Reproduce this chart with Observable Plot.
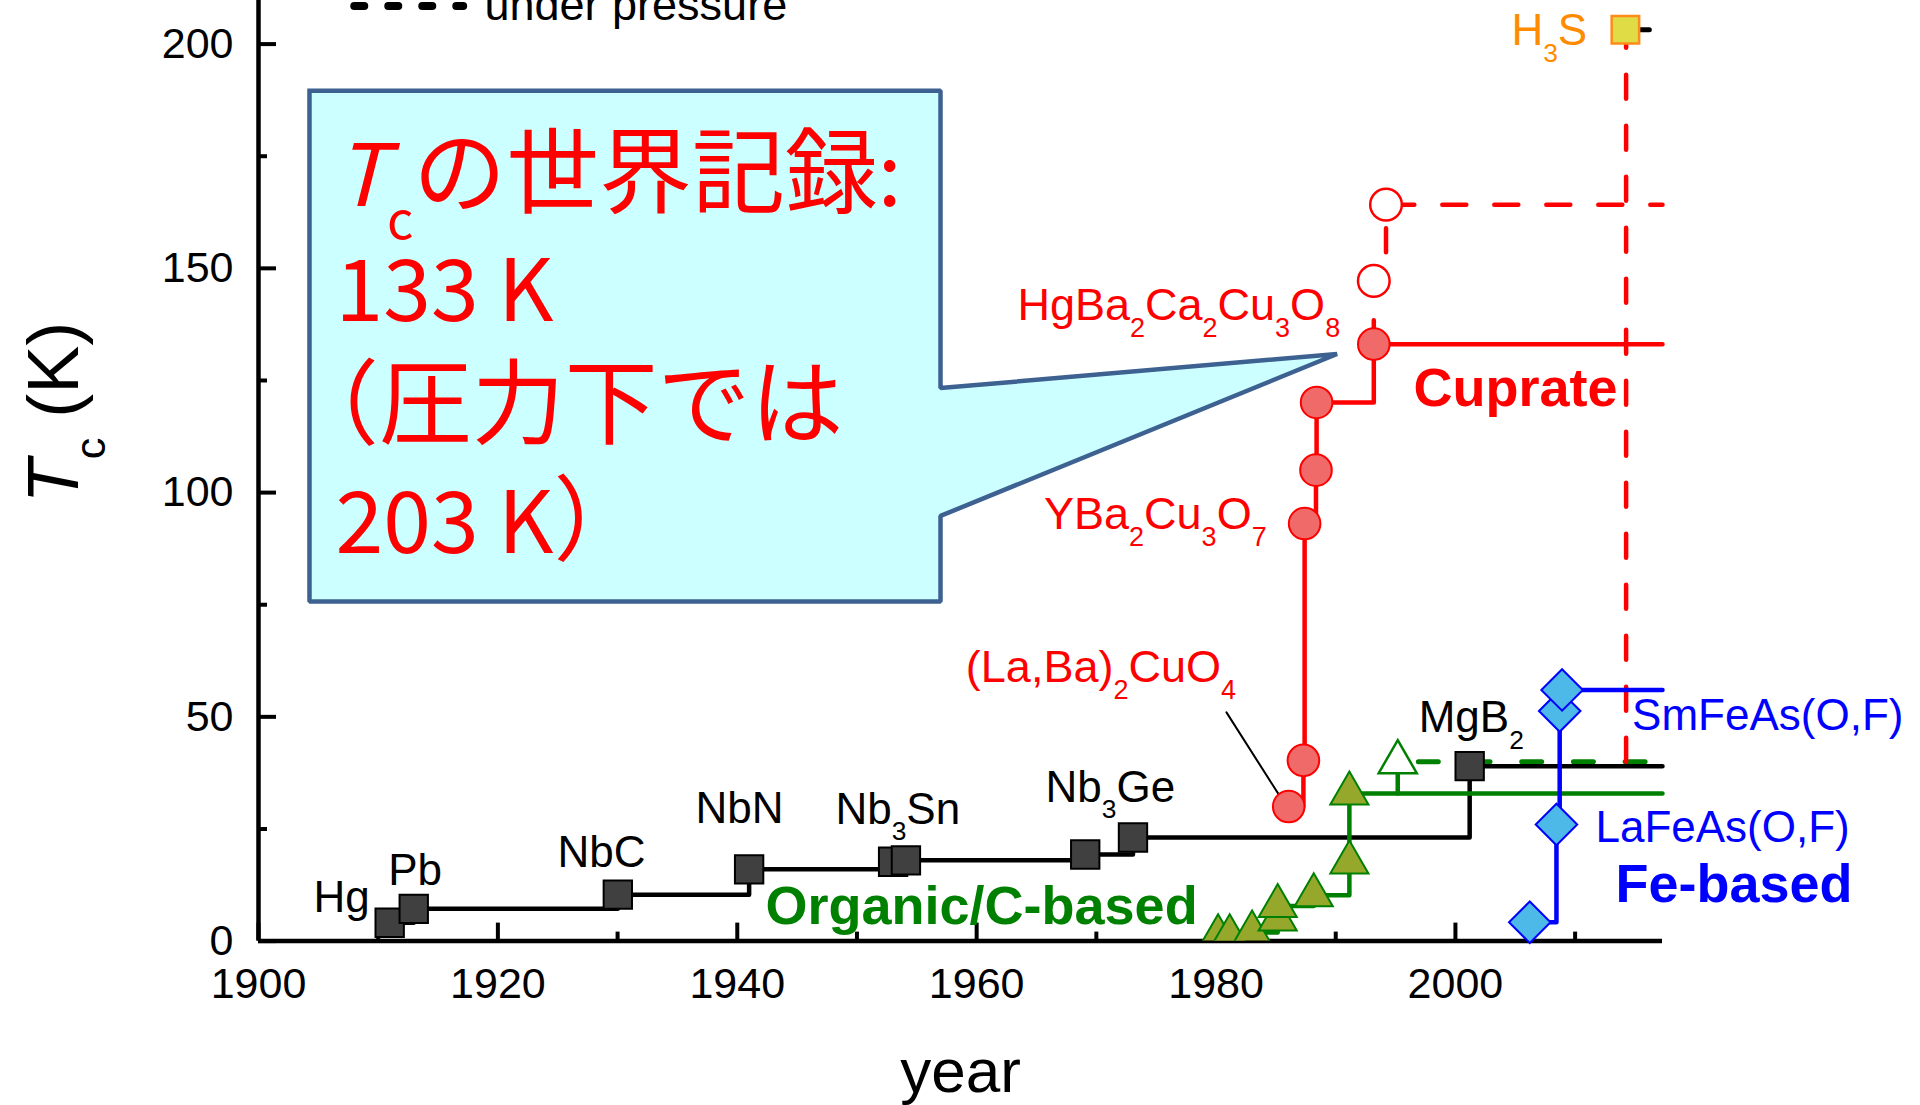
<!DOCTYPE html>
<html><head><meta charset="utf-8">
<script src="https://cdn.jsdelivr.net/npm/d3@7"></script>
<script src="https://cdn.jsdelivr.net/npm/@observablehq/plot@0.6"></script>
<style>html,body{margin:0;padding:0;background:#fff;overflow:hidden}</style>
</head><body><div id="chart"></div>
<script>
// ---------- data ----------
const yearStart = 1900, yearEnd = 2017.3, tcMax = 209.72;

const xMajorTicks = [1900, 1920, 1940, 1960, 1980, 2000];
const xMinorTicks = [1910, 1930, 1950, 1970, 1990, 2010];
const yMajorTicks = [0, 50, 100, 150, 200];
const yMinorTicks = [25, 75, 125, 175];

// conventional (black squares)
const metalYear = [1910.96, 1912.97, 1930.02, 1940.99, 1953.02, 1954.09, 1969.07, 1973.06, 2001.19];
const metalTc   = [4.1, 7.2, 10.35, 16.0, 17.7, 18.0, 19.3, 23.1, 39.0];
const metalLabel = ["Hg", "Pb", "NbC", "NbN", "Nb_3Sn", "Nb_3Ge", "MgB_2"];
const metalLabelYear = [1904.59, 1910.84, 1924.98, 1936.51, 1948.2, 1965.75, 1996.93];
const metalLabelTc   = [6.4, 12.6, 16.5, 26.4, 26.2, 31.1, 46.6];

// cuprates (red circles)
const cuprateYear = [1986.07, 1987.3, 1987.4, 1988.35, 1988.4, 1993.18];
const cuprateTc   = [30.0, 40.3, 93.1, 105.0, 120.1, 133.1];
const cupratePressYear = [1993.18, 1994.2];
const cupratePressTc   = [147.2, 164.2];
const cuprateLabel = ["HgBa_2Ca_2Cu_3O_8", "YBa_2Cu_3O_7", "(La,Ba)_2CuO_4"];
const cuprateLabelYear = [1990.37, 1984.23, 1981.67];
const cuprateLabelTc   = [138.4, 91.9, 57.7];
const leaderYear = [1980.87, 1985.38];
const leaderTc   = [51.0, 32.1];

// organic / carbon based (green triangles)
const organicYear = [1980.17, 1981.14, 1983.01, 1985.15, 1985.15, 1988.16, 1991.14, 1991.14];
const organicTc   = [1.1, 1.1, 1.9, 4.8, 7.8, 10.2, 17.5, 32.9];
const organicPressYear = [1995.18];
const organicPressTc   = [39.9];
const organicDashYear = [1996.9, yearEnd];
const organicDashTc   = [40.0, 40.0];

// iron based (blue diamonds)
const feYear = [2006.21, 2008.44, 2008.71, 2008.91];
const feTc   = [4.2, 26.0, 51.3, 56.0];
const feLabel = ["SmFeAs(O,F)", "LaFeAs(O,F)"];
const feLabelYear = [2014.76, 2011.7];
const feLabelTc   = [47.0, 22.1];

// H3S
const h3sYear = [2014.2];
const h3sTc   = [203.2];
const h3sLabel = ["H_3S"];
const h3sLabelYear = [2011.01];
const h3sLabelTc = [199.7];
const h3sDashYear = [2014.26, 2014.26];
const h3sDashTc   = [40.0, 203.2];

// family names
const familyLabel = ["Cuprate", "Organic/C-based", "Fe-based"];
const familyYear  = [1996.49, 1942.36, 2013.37];
const familyTc    = [119.4, 3.9, 8.7];

// legend
const legendLineYear = [1908.0, 1917.1];
const legendLineTc = [208.5, 208.5];
const legendText = ["under pressure"];
const legendTextYear = [1918.88];
const legendTextTc = [205.4];

// callout bubble
const calloutYear = [1904.26, 1956.98, 1956.98, 1990.11, 1956.98, 1956.98, 1904.26, 1904.26];
const calloutTc   = [189.6, 189.6, 123.3, 130.9, 94.8, 75.7, 75.7, 189.6];
const calloutLines = ["*T*_cの世界記録:", "133 K", "（圧力下では", "203 K）"];
const calloutLineYear = [1906.43, 1906.43, 1902.3, 1906.43];
const calloutLineTc = [163.9, 138.2, 112.4, 86.6];

// ---------- layout ----------
const W = 1920, H = 1105, mL = 258, mR = 258, mT = 0, mB = 164.4;
const pxPerYear = (W - mL - mR) / (yearEnd - yearStart);
const pxPerK = (H - mT - mB) / tcMax;
const majorLen = 18, minorLen = 9;
const LW = 4.5;

const RED = "#FF0000", GREEN = "#008000", BLUE = "#0000FF", BLACK = "#000";
const pts = (xs, ys) => xs.map((x, i) => ({x, y: ys[i]}));
const withEnd = (xs, ys) => pts(xs, ys).concat([{x: yearEnd, y: ys[ys.length - 1]}]);
const XY = {x: "x", y: "y"};
const labelAt = (xs, ys) => ({x: (d, i) => xs[i], y: (d, i) => ys[i], lineAnchor: "bottom"});

const chart = Plot.plot({
  width: W, height: H, marginLeft: mL, marginRight: mR, marginTop: mT, marginBottom: mB,
  x: {domain: [yearStart, yearEnd], axis: null},
  y: {domain: [0, tcMax], axis: null},
  style: {fontFamily: "'Liberation Sans', Arial, sans-serif", fontSize: "44px", background: "#fff", color: "#000"},
  marks: [
    // axes
    Plot.axisX(xMajorTicks, {tickSize: 0, tickPadding: 26, fontSize: 43, tickFormat: "d", label: null}),
    Plot.axisY(yMajorTicks, {tickSize: 0, tickPadding: 25, fontSize: 43, tickFormat: "d", label: null}),
    Plot.ruleX(xMajorTicks, {x: d => d, y1: 0, y2: majorLen / pxPerK, strokeWidth: 4}),
    Plot.ruleX(xMinorTicks, {x: d => d, y1: 0, y2: minorLen / pxPerK, strokeWidth: 4}),
    Plot.ruleY(yMajorTicks, {y: d => d, x1: yearStart, x2: yearStart + majorLen / pxPerYear, strokeWidth: 4}),
    Plot.ruleY(yMinorTicks, {y: d => d, x1: yearStart, x2: yearStart + minorLen / pxPerYear, strokeWidth: 4}),
    Plot.ruleY([0], {x1: yearStart, x2: yearEnd, strokeWidth: 4.5}),
    Plot.ruleX([yearStart], {y1: 0, y2: tcMax, strokeWidth: 4.5}),
    Plot.text(["year"], {frameAnchor: "bottom", textAnchor: "middle", lineAnchor: "bottom", dy: 150.4, fontSize: 62}),
    Plot.text(["*T*_c (K)"], {frameAnchor: "left", textAnchor: "middle", lineAnchor: "bottom", rotate: -90,
      dx: 77 - mL, dy: 412 - (H - mB) / 2, fontSize: 72}),

    // legend
    Plot.line(pts(legendLineYear, legendLineTc), {...XY, stroke: BLACK, strokeWidth: 8, strokeDasharray: "10,24", strokeLinecap: "round"}),
    Plot.text(legendText, {...labelAt(legendTextYear, legendTextTc), textAnchor: "start", fontSize: 45}),

    // pressure dashed lines
    Plot.line(pts(organicDashYear, organicDashTc), {...XY, stroke: GREEN, strokeWidth: 5, strokeDasharray: "20,31.7", strokeLinecap: "round"}),
    Plot.line(pts(h3sDashYear, h3sDashTc), {...XY, stroke: RED, strokeWidth: LW, strokeDasharray: "24,27"}),
    Plot.line(withEnd([cuprateYear[cuprateYear.length - 1], ...cupratePressYear], [cuprateTc[cuprateTc.length - 1], ...cupratePressTc]),
      {...XY, curve: "step-after", stroke: RED, strokeWidth: LW, strokeDasharray: "24,28"}),
    Plot.line([{x: h3sYear[0], y: h3sTc[0]}, {x: 2016.2, y: h3sTc[0]}], {...XY, stroke: BLACK, strokeWidth: 5, strokeLinecap: "round"}),

    // step lines
    Plot.line(withEnd(metalYear, metalTc), {...XY, curve: "step-after", stroke: BLACK, strokeWidth: LW}),
    Plot.line(withEnd(organicYear, organicTc), {...XY, curve: "step-after", stroke: GREEN, strokeWidth: LW}),
    Plot.line([{x: organicPressYear[0], y: organicTc[organicTc.length - 1]}, {x: organicPressYear[0], y: organicPressTc[0]}], {...XY, stroke: GREEN, strokeWidth: LW}),
    Plot.line(withEnd(cuprateYear, cuprateTc), {...XY, curve: "step-after", stroke: RED, strokeWidth: LW}),
    Plot.line(withEnd(feYear, feTc), {...XY, curve: "step-after", stroke: BLUE, strokeWidth: LW}),
    Plot.line(pts(leaderYear, leaderTc), {...XY, stroke: BLACK, strokeWidth: 2}),

    // markers
    Plot.dot(pts(metalYear, metalTc), {...XY, symbol: "square", r: 16, fill: "#404040", stroke: BLACK, strokeWidth: 2}),
    Plot.dot(pts(organicYear, organicTc), {...XY, symbol: "triangle", r: 14.15, fill: "#96A82C", stroke: GREEN, strokeWidth: 2, clip: true}),
    Plot.dot(pts(organicPressYear, organicPressTc), {...XY, symbol: "triangle", r: 14.15, fill: "#fff", stroke: GREEN, strokeWidth: 2.5}),
    Plot.dot(pts(cuprateYear, cuprateTc), {...XY, symbol: "circle", r: 15.8, fill: "#F06A6A", stroke: RED, strokeWidth: 2}),
    Plot.dot(pts(cupratePressYear, cupratePressTc), {...XY, symbol: "circle", r: 15.8, fill: "#fff", stroke: RED, strokeWidth: 2.5}),
    Plot.dot(pts(feYear, feTc), {...XY, symbol: "diamond2", r: 18.7, fill: "#4DB9E8", stroke: BLUE, strokeWidth: 2}),
    Plot.dot(pts(h3sYear, h3sTc), {...XY, symbol: "square", r: 15.5, fill: "#E0DC45", stroke: "#FF8C1A", strokeWidth: 2.5}),

    // labels
    Plot.text(metalLabel, {...labelAt(metalLabelYear, metalLabelTc), textAnchor: "start", fill: BLACK, fontSize: 44}),
    Plot.text(cuprateLabel, {...labelAt(cuprateLabelYear, cuprateLabelTc), textAnchor: "end", fill: RED, fontSize: 45}),
    Plot.text(feLabel, {...labelAt(feLabelYear, feLabelTc), textAnchor: "start", fill: BLUE, fontSize: 44}),
    Plot.text(h3sLabel, {...labelAt(h3sLabelYear, h3sLabelTc), textAnchor: "end", fill: "#FF8C00", fontSize: 44}),
    Plot.text(familyLabel, {...labelAt(familyYear, familyTc), textAnchor: "start",
      fill: (d, i) => [RED, GREEN, BLUE][i], fontWeight: "bold", fontSize: 54}),

    // callout
    Plot.line(pts(calloutYear, calloutTc), {...XY, fill: "#CCFFFF", stroke: "#3D6190", strokeWidth: 4.5, strokeLinejoin: "miter", strokeLinecap: "square"}),
    Plot.text(calloutLines, {...labelAt(calloutLineYear, calloutLineTc), textAnchor: "start",
      fill: RED, fontSize: 86, fontFamily: "'Noto Sans CJK JP', 'Noto Sans', sans-serif"})
  ]
});

document.getElementById("chart").appendChild(chart);

// rich text: *italic*, _x subscripts, slightly larger CJK runs
function richify(root) {
  const ns = "http://www.w3.org/2000/svg";
  const cjk = /[\u3000-\u9fff\uff00-\uffef]/;
  root.querySelectorAll("text").forEach(t => {
    if (t.children.length) return;
    const s = t.textContent;
    if (!/[_*]/.test(s) && !cjk.test(s)) return;
    const fs = parseFloat(getComputedStyle(t).fontSize) || 44;
    const shift = fs * 0.38;
    t.textContent = "";
    let italic = false, buf = "", bufCjk = false, lowered = false;
    const add = (str, sub, big) => {
      const ts = document.createElementNS(ns, "tspan");
      ts.textContent = str;
      if (italic) ts.setAttribute("font-style", "italic");
      if (big) ts.setAttribute("font-size", fs * 1.08);
      if (sub) { ts.setAttribute("font-size", fs * 0.6); if (!lowered) ts.setAttribute("dy", shift); lowered = true; }
      else if (lowered) { ts.setAttribute("dy", -shift); lowered = false; }
      t.appendChild(ts);
    };
    const flush = () => { if (buf) { add(buf, false, bufCjk); buf = ""; } };
    for (let i = 0; i < s.length; i++) {
      const ch = s[i];
      if (ch === "*") { flush(); italic = !italic; }
      else if (ch === "_") { flush(); add(s[i + 1], true, false); i++; }
      else {
        const c = cjk.test(ch);
        if (buf && c !== bufCjk) flush();
        bufCjk = c;
        buf += ch;
      }
    }
    flush();
  });
}
richify(chart);
</script>
</body></html>
